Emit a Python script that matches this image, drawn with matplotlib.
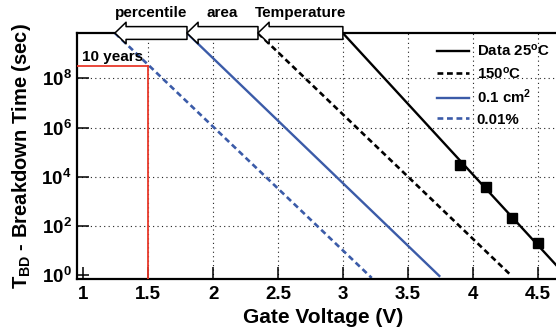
import matplotlib
matplotlib.use("Agg")
import matplotlib.pyplot as plt
import numpy as np
from matplotlib.ticker import NullLocator

plt.rcParams['font.family'] = ['Liberation Sans', 'DejaVu Sans']
plt.rcParams['font.weight'] = 'bold'
plt.rcParams['mathtext.fontset'] = 'custom'
plt.rcParams['mathtext.rm'] = 'Liberation Sans:bold'
plt.rcParams['mathtext.bf'] = 'Liberation Sans:bold'
plt.rcParams['mathtext.it'] = 'Liberation Sans:bold:italic'
plt.rcParams['mathtext.default'] = 'rm'

# line end points, (gate voltage, log10 of T_BD in sec)
data25_v = [3.0, 4.72]
data25_log = [9.84, -0.03]
data25_pts_v = [3.9, 4.1, 4.3, 4.5]
data25_pts_log = [4.48, 3.57, 2.33, 1.32]
t150_v = [2.346, 4.30]
t150_log = [9.84, -0.03]
area_v = [1.799, 3.743]
area_log = [9.84, -0.03]
pct_v = [1.244, 3.222]
pct_log = [9.84, -0.11]

ten_years = 3.15e8
v_use = 1.5

arrow_tips = [1.244, 1.799, 2.346]
arrow_tails = [1.799, 2.346, 3.0]
arrow_labels = ['percentile', 'area', 'Temperature']

xticks = [1, 1.5, 2, 2.5, 3, 3.5, 4, 4.5]
xticklabels = ['1', '1.5', '2', '2.5', '3', '3.5', '4', '4.5']
yexps = [0, 2, 4, 6, 8]

blue = '#3b5ba8'
red = '#e8392b'

fig = plt.figure(figsize=(5.56, 3.36), dpi=100)
W, H = 556, 336
ax = fig.add_axes([77.3 / W, (H - 279.3) / H, (569 - 77.3) / W, (279.3 - 33) / H])
ax.set_yscale('log')
ax.set_xlim(0.954, 4.742)
ax.set_ylim(10 ** -0.167, 10 ** 9.845)

# dotted grid, no line at V=1 or 10^0
for v in xticks[1:]:
    ax.axvline(v, color='#222222', ls=(0, (1, 3)), lw=0.8, zorder=0)
for e in yexps[1:]:
    ax.axhline(10.0 ** e, color='#222222', ls=(0, (1, 3)), lw=0.8, zorder=0)

ax.plot(data25_v, np.power(10.0, data25_log), color='black', lw=1.7, label=r'Data 25$^{\rm o}$C')
ax.plot(t150_v, np.power(10.0, t150_log), color='black', lw=1.9, ls=(0, (2.2, 1.4)), label=r'150$^{\rm o}$C')
ax.plot(area_v, np.power(10.0, area_log), color=blue, lw=1.7, label=r'0.1 cm$^{\rm 2}$')
ax.plot(pct_v, np.power(10.0, pct_log), color=blue, lw=1.9, ls=(0, (2.2, 1.4)), label='0.01%')
ax.plot(data25_pts_v, np.power(10.0, data25_pts_log), ls='none', marker='s', ms=7, color='black')

# 10 years at 1.5 V
x0, _ = ax.get_xlim()
y0, _ = ax.get_ylim()
ax.plot([x0, v_use], [ten_years, ten_years], color=red, lw=1.3, zorder=3)
ax.plot([v_use, v_use], [y0, ten_years], color=red, lw=1.3, zorder=3)
ax.text(0.99, ten_years * 1.25, '10 years', fontsize=11, fontweight='bold', ha='left', va='bottom')

for tip, tail, lab in zip(arrow_tips, arrow_tails, arrow_labels):
    ax.annotate('', xy=(tip, 1), xycoords=('data', 'axes fraction'),
                xytext=(tail, 1), textcoords=('data', 'axes fraction'),
                arrowprops=dict(arrowstyle='simple,head_length=0.8,head_width=1.55,tail_width=0.92',
                                fc='white', ec='black', lw=1.1, shrinkA=0, shrinkB=0, mutation_scale=10),
                annotation_clip=False, zorder=5)
    ax.annotate(lab, xy=((tip + tail) / 2, 1), xycoords=('data', 'axes fraction'),
                xytext=(0, 14.4), textcoords='offset points', ha='center', va='center',
                fontsize=11, fontweight='bold', annotation_clip=False)

ax.set_xticks(xticks)
ax.set_xticklabels(xticklabels)
ax.set_yticks([10.0 ** e for e in yexps])
ax.set_yticklabels([r'$10^{%d}$' % e for e in yexps])
ax.yaxis.set_minor_locator(NullLocator())
ax.tick_params(direction='in', length=8.6, width=1.1, labelsize=13.5, top=False, right=False)
ax.tick_params(axis='x', pad=4.5)
ax.tick_params(axis='y', pad=4)

for side in ['left', 'bottom', 'top']:
    ax.spines[side].set_linewidth(1.6)
ax.spines['right'].set_visible(False)

ax.set_xlabel('Gate Voltage (V)', fontsize=15, fontweight='bold', labelpad=4)
ax.set_ylabel(r'T$_{\rm BD}$ - Breakdown Time (sec)', fontsize=14.5, fontweight='bold', labelpad=6)

ax.legend(loc='upper left', bbox_to_anchor=(437 / W, 1 - 43 / H), bbox_transform=fig.transFigure,
          frameon=False, fontsize=10.8, handlelength=2.1, handletextpad=0.55, labelspacing=0.42,
          borderpad=0, borderaxespad=0)

fig.savefig('out.png', dpi=100)
